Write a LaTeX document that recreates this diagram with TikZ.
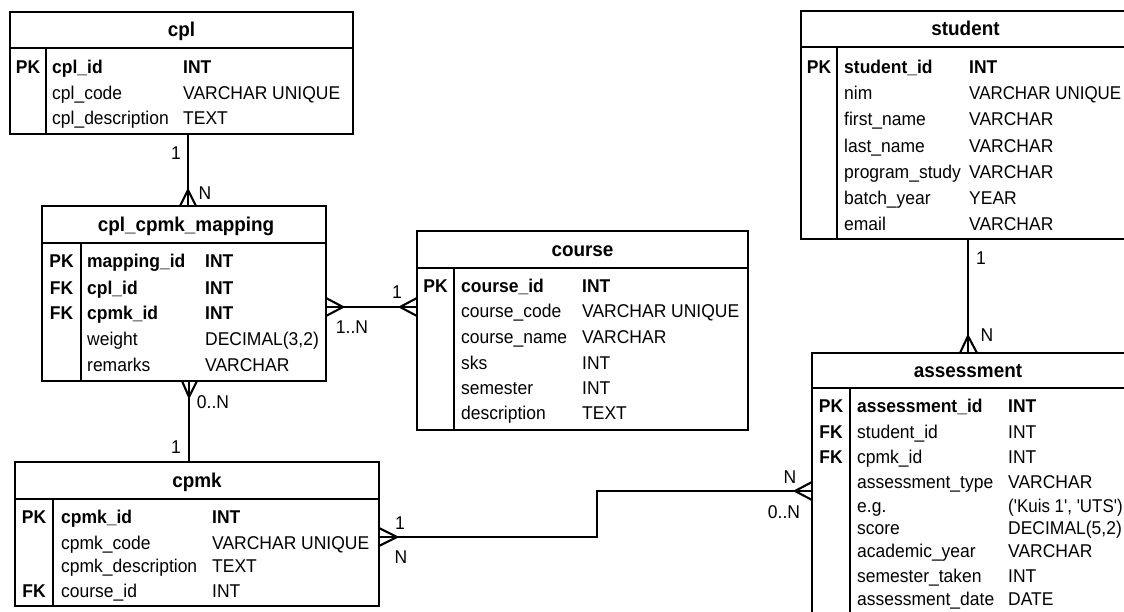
\documentclass[tikz,border=0pt]{standalone}
\usepackage{fontspec}
\newfontfamily\erfont[FakeStretch=0.945]{Liberation Sans}
\newfontfamily\erfontn[FakeStretch=0.915]{Liberation Sans}
\begin{document}
\begin{tikzpicture}[x=1pt,y=-1pt,
  tbl/.style={draw, line width=2.4pt, rectangle, inner sep=0pt, outer sep=0pt},
  sepline/.style={line width=2.2pt},
  link/.style={line width=2.1pt},
  cell/.style={anchor=base west, inner sep=0pt, font=\erfont\fontsize{18.5}{21}\selectfont},
  keyc/.style={anchor=base, inner sep=0pt, font=\erfont\bfseries\fontsize{18.5}{21}\selectfont},
  ttl/.style={anchor=base, inner sep=0pt, font=\erfont\bfseries\fontsize{20}{23}\selectfont},
  lbl/.style={inner sep=0pt, font=\erfont\fontsize{18.5}{21}\selectfont}]
\useasboundingbox (0,0) rectangle (1124,612);
\clip (0,0) rectangle (1124,612);
\fill[white] (0,0) rectangle (1124,612);

% ---------- tables ----------
\node[tbl, minimum width=343pt, minimum height=122pt] (cpl) at (181.5,73) {};
\node[tbl, minimum width=284pt, minimum height=175pt] (map) at (184,293.5) {};
\node[tbl, minimum width=331pt, minimum height=199pt] (course) at (582.5,330.5) {};
\node[tbl, minimum width=364pt, minimum height=144pt] (cpmk) at (197,534) {};
\node[tbl, minimum width=329pt, minimum height=228pt] (student) at (965.5,125) {};
\node[tbl, minimum width=314pt, minimum height=297pt] (assess) at (969,501.5) {};

% header lines and key dividers
\draw[sepline] (cpl.west |- 0,48) -- (cpl.east |- 0,48);
\draw[sepline] (46,48) -- (cpl.south -| 46,0);
\draw[sepline] (map.west |- 0,243) -- (map.east |- 0,243);
\draw[sepline] (81,243) -- (map.south -| 81,0);
\draw[sepline] (course.west |- 0,268) -- (course.east |- 0,268);
\draw[sepline] (454,268) -- (course.south -| 454,0);
\draw[sepline] (cpmk.west |- 0,499) -- (cpmk.east |- 0,499);
\draw[sepline] (53,499) -- (cpmk.south -| 53,0);
\draw[sepline] (student.west |- 0,47) -- (student.east |- 0,47);
\draw[sepline] (837,47) -- (student.south -| 837,0);
\draw[sepline] (assess.west |- 0,388) -- (assess.east |- 0,388);
\draw[sepline] (850,388) -- (assess.south -| 850,0);

% titles
\node[ttl] (cpl-title) at (181.5,37) {cpl};
\node[ttl] (map-title) at (186,231.5) {cpl\_cpmk\_mapping};
\node[ttl] (course-title) at (582.5,256.5) {course};
\node[ttl] (cpmk-title) at (197,487.5) {cpmk};
\node[ttl] (student-title) at (965.5,36) {student};
\node[ttl] (assess-title) at (968,377.5) {assessment};

% rows
\foreach \y/\k/\n/\t [count=\i] in {
  67/PK/{\bfseries cpl\_id}/{\bfseries INT},
  93/{}/cpl\_code/VARCHAR UNIQUE,
  118/{}/cpl\_description/TEXT} {
  \node[keyc] (cpl-k\i) at (28,\y+6.5) {\k};
  \node[cell] (cpl-n\i) at (52,\y+6.5) {\n};
  \node[cell] (cpl-t\i) at (183,\y+6.5) {\t};
}
\foreach \y/\k/\n/\t [count=\i] in {
  261/PK/{\bfseries mapping\_id}/{\bfseries INT},
  288/FK/{\bfseries cpl\_id}/{\bfseries INT},
  313/FK/{\bfseries cpmk\_id}/{\bfseries INT},
  339/{}/weight/{DECIMAL(3,2)},
  365/{}/remarks/VARCHAR} {
  \node[keyc] (map-k\i) at (61.5,\y+6.5) {\k};
  \node[cell] (map-n\i) at (87,\y+6.5) {\n};
  \node[cell] (map-t\i) at (205,\y+6.5) {\t};
}
\foreach \y/\k/\n/\t [count=\i] in {
  286/PK/{\bfseries course\_id}/{\bfseries INT},
  311/{}/course\_code/VARCHAR UNIQUE,
  337/{}/course\_name/VARCHAR,
  363/{}/sks/INT,
  388/{}/semester/INT,
  413/{}/description/TEXT} {
  \node[keyc] (course-k\i) at (435.5,\y+6.5) {\k};
  \node[cell] (course-n\i) at (461,\y+6.5) {\n};
  \node[cell] (course-t\i) at (582,\y+6.5) {\t};
}
\foreach \y/\k/\n/\t [count=\i] in {
  517/PK/{\bfseries cpmk\_id}/{\bfseries INT},
  543/{}/cpmk\_code/VARCHAR UNIQUE,
  566/{}/cpmk\_description/TEXT,
  591/FK/course\_id/INT} {
  \node[keyc] (cpmk-k\i) at (34,\y+6.5) {\k};
  \node[cell] (cpmk-n\i) at (61,\y+6.5) {\n};
  \node[cell] (cpmk-t\i) at (212,\y+6.5) {\t};
}
\foreach \y/\k/\n/\t [count=\i] in {
  67/PK/{\bfseries student\_id}/{\bfseries INT},
  93/{}/nim/{\erfontn VARCHAR UNIQUE},
  119/{}/first\_name/VARCHAR,
  146/{}/last\_name/VARCHAR,
  172/{}/program\_study/VARCHAR,
  198/{}/batch\_year/YEAR,
  224/{}/email/VARCHAR} {
  \node[keyc] (student-k\i) at (819,\y+6.5) {\k};
  \node[cell] (student-n\i) at (844,\y+6.5) {\n};
  \node[cell] (student-t\i) at (969,\y+6.5) {\t};
}
\foreach \y/\k/\n/\t [count=\i] in {
  406/PK/{\bfseries assessment\_id}/{\bfseries INT},
  432/FK/student\_id/INT,
  457/FK/cpmk\_id/INT,
  482/{}/assessment\_type/VARCHAR,
  506/{}/e.g./{\erfontn ('Kuis 1', 'UTS')},
  528/{}/score/{DECIMAL(5,2)},
  551/{}/academic\_year/VARCHAR,
  576/{}/semester\_taken/INT,
  599/{}/assessment\_date/DATE} {
  \node[keyc] (assess-k\i) at (831,\y+6.5) {\k};
  \node[cell] (assess-n\i) at (857,\y+6.5) {\n};
  \node[cell] (assess-t\i) at (1008,\y+6.5) {\t};
}

% ---------- connectors ----------
% cpl -> mapping
\draw[link] (cpl.south -| 188,0) -- (map.north -| 188,0);
\draw[link] (180,206) -- (188,190) -- (196,206);
\node[lbl] (lA1) at (176,153) {1};
\node[lbl] (lAN) at (205,193) {N};

% mapping <-> course
\draw[link] (map.east |- 0,307) -- (course.west |- 0,307);
\draw[link] (326,298) -- (343,307) -- (326,316);
\draw[link] (417,298) -- (400,307) -- (417,316);
\node[lbl] (lB1) at (397,292) {1};
\node[lbl] (lBN) at (352,327) {1..N};

% mapping -> cpmk
\draw[link] (map.south -| 189,0) -- (cpmk.north -| 189,0);
\draw[link] (182,381) -- (189,397) -- (197,381);
\node[lbl] (lC0N) at (213,402) {0..N};
\node[lbl] (lC1) at (176,447) {1};

% cpmk -> assessment
\coordinate (bendD) at (597,491);
\draw[link] (cpmk.east |- 0,537) -| (bendD) -- (assess.west |- bendD);
\draw[link] (379,528) -- (397,537) -- (379,546);
\draw[link] (812,482) -- (795,491) -- (812,500);
\node[lbl] (lD1) at (400,523) {1};
\node[lbl] (lDN) at (401,557) {N};
\node[lbl] (lDN2) at (790,477) {N};
\node[lbl] (lD0N) at (784,512) {0..N};

% student -> assessment
\draw[link] (student.south -| 968,0) -- (assess.north -| 968,0);
\draw[link] (960,353) -- (968,336) -- (977,353);
\node[lbl] (lE1) at (981,258) {1};
\node[lbl] (lEN) at (987,335) {N};
\end{tikzpicture}
\end{document}
